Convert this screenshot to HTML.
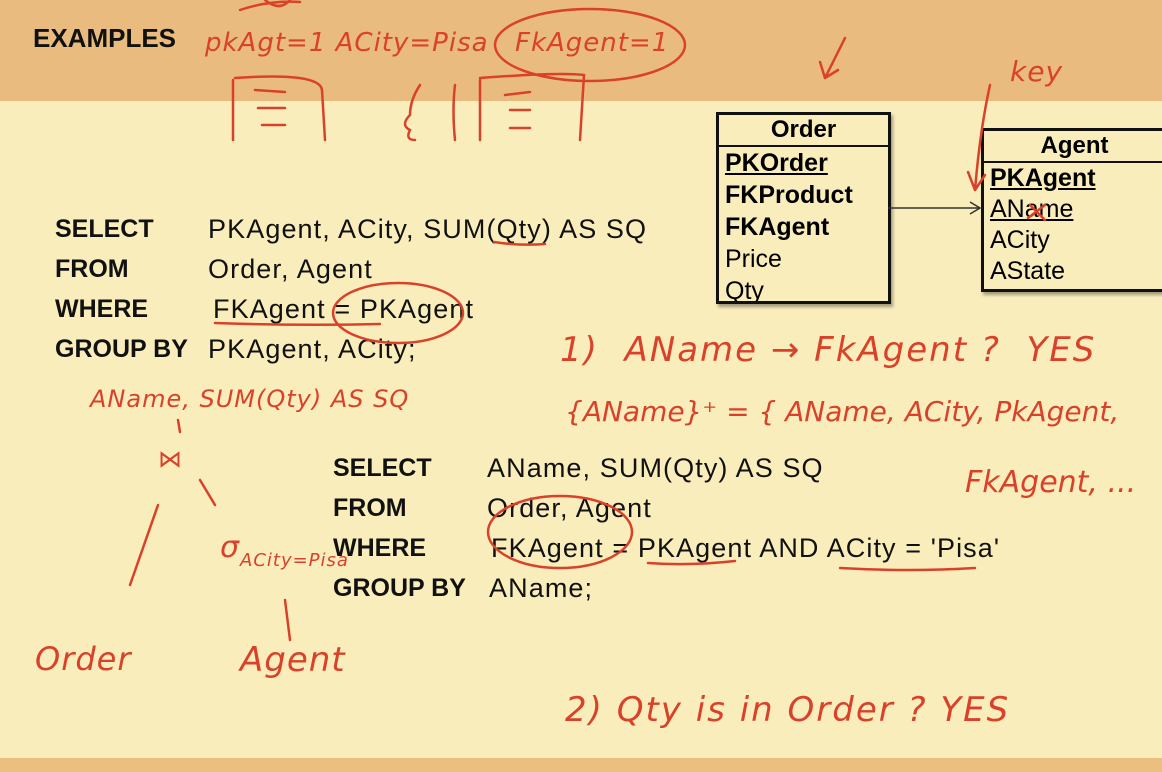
<!DOCTYPE html>
<html><head><meta charset="utf-8"><style>
*{margin:0;padding:0}
body{width:1162px;height:772px;overflow:hidden;background:#FAEDBC;position:relative;font-family:"Liberation Sans",sans-serif}
.hdr{position:absolute;left:0;top:0;width:1162px;height:101px;background:#EABB7E}
.ftr{position:absolute;left:0;top:758px;width:1162px;height:14px;background:#EABF80}
.t{position:absolute;white-space:pre;color:#111;font-size:27px;line-height:30px}
.v{letter-spacing:1.1px}
.k{font-weight:bold;font-size:25px}
.h{position:absolute;white-space:pre;color:#D9412A;font-family:"DejaVu Sans",sans-serif;font-style:italic;font-weight:300;letter-spacing:1px}
.box{position:absolute;border:3px solid #111;background:#FAEDBC;box-shadow:2px 3px 3px rgba(0,0,0,.35);overflow:hidden}
.box .tt{font-weight:bold;font-size:24px;text-align:center;border-bottom:2px solid #111;height:30px;line-height:30px}
.box div.r{font-size:25px;line-height:32px;padding-left:6px;white-space:nowrap}
</style></head><body>
<div class="hdr"></div><div class="ftr"></div>
<div class="t k" style="left:33px;top:23px;font-size:26px">EXAMPLES</div>

<div class="t k" style="left:55px;top:214px">SELECT</div><div class="t v" style="left:208px;top:214px">PKAgent, ACity, SUM(Qty) AS SQ</div>
<div class="t k" style="left:55px;top:254px">FROM</div><div class="t v" style="left:208px;top:254px">Order, Agent</div>
<div class="t k" style="left:55px;top:294px">WHERE</div><div class="t v" style="left:213px;top:294px">FKAgent = PKAgent</div>
<div class="t k" style="left:55px;top:334px">GROUP BY</div><div class="t v" style="left:208px;top:334px">PKAgent, ACity;</div>

<div class="t k" style="left:333px;top:453px">SELECT</div><div class="t v" style="left:487px;top:453px">AName, SUM(Qty) AS SQ</div>
<div class="t k" style="left:333px;top:493px">FROM</div><div class="t v" style="left:487px;top:493px">Order, Agent</div>
<div class="t k" style="left:333px;top:533px">WHERE</div><div class="t v" style="left:491px;top:533px">FKAgent = PKAgent AND ACity = 'Pisa'</div>
<div class="t k" style="left:333px;top:573px">GROUP BY</div><div class="t v" style="left:489px;top:573px">AName;</div>

<div class="box" style="left:716px;top:112px;width:169px;height:186px">
<div class="tt">Order</div>
<div class="r" style="font-weight:bold;text-decoration:underline">PKOrder</div>
<div class="r" style="font-weight:bold">FKProduct</div>
<div class="r" style="font-weight:bold">FKAgent</div>
<div class="r">Price</div>
<div class="r">Qty</div>
</div>
<div class="box" style="left:981px;top:128px;width:181px;height:158px;border-right:none">
<div class="tt" style="padding-right:0">Agent</div>
<div class="r" style="font-weight:bold;text-decoration:underline;line-height:31px">PKAgent</div>
<div class="r" style="text-decoration:underline;line-height:31px">AName</div>
<div class="r" style="line-height:31px">ACity</div>
<div class="r" style="line-height:31px">AState</div>
</div>

<svg width="1162" height="772" style="position:absolute;left:0;top:0" fill="none">
<path d="M888 208 L980 208 M970 202 L980 208 L970 214" stroke="#333" stroke-width="1.5"/>
<g stroke="#D9412A" stroke-width="2.5" stroke-linecap="round">
<ellipse cx="590" cy="45" rx="95" ry="36"/>
<path d="M235 78 Q320 72 322 90 L325 140 M233 80 L233 140"/>
<path d="M255 90 L285 92 M258 108 L285 108 M262 125 L285 125"/>
<path d="M480 78 Q560 72 584 75 L580 140 M480 80 L480 140"/>
<path d="M505 95 L530 92 M510 110 L530 110 M510 128 L530 128"/>
<path d="M420 85 Q410 100 410 115 Q400 125 410 130 Q405 140 415 140 M455 85 Q452 110 455 140"/>
<path d="M240 10 Q270 0 300 2 M265 0 Q280 12 290 0"/>
<path d="M494 242 Q520 246 545 244"/>
<ellipse cx="398" cy="313" rx="65" ry="30"/>
<path d="M215 323 Q300 326 380 324"/>
<ellipse cx="560" cy="532" rx="72" ry="36"/>
<path d="M648 563 Q690 566 735 561 M840 568 Q910 572 975 568"/>
<path d="M845 38 L825 78 M825 78 L820 62 M825 78 L838 70"/>
<path d="M990 85 Q980 130 975 190 M975 190 L968 172 M975 190 L985 175"/>
<path d="M1030 205 L1045 220 M1045 205 L1028 218"/>
<path d="M130 585 L158 505 M200 480 L215 505 M285 600 L290 640 M178 420 L180 432"/>
</g>
</svg>

<div class="h" style="left:205px;top:28px;font-size:26px">pkAgt=1 ACity=Pisa</div>
<div class="h" style="left:515px;top:28px;font-size:26px">FkAgent=1</div>
<div class="h" style="left:1010px;top:55px;font-size:28px">key</div>
<div class="h" style="left:560px;top:330px;font-size:34px;letter-spacing:2px">1)  AName → FkAgent ?  YES</div>
<div class="h" style="left:565px;top:395px;font-size:28px;letter-spacing:0">{AName}⁺ = { AName, ACity, PkAgent,</div>
<div class="h" style="left:965px;top:465px;font-size:30px;letter-spacing:0">FkAgent, ...</div>
<div class="h" style="left:90px;top:385px;font-size:24px">AName, SUM(Qty) AS SQ</div>
<div class="h" style="left:158px;top:445px;font-size:24px">⋈</div>
<div class="h" style="left:220px;top:530px;font-size:30px">σ</div>
<div class="h" style="left:240px;top:550px;font-size:18px">ACity=Pisa</div>
<div class="h" style="left:35px;top:640px;font-size:32px">Order</div>
<div class="h" style="left:240px;top:640px;font-size:34px">Agent</div>
<div class="h" style="left:565px;top:690px;font-size:34px;letter-spacing:2px">2) Qty is in Order ? YES</div>
</body></html>
